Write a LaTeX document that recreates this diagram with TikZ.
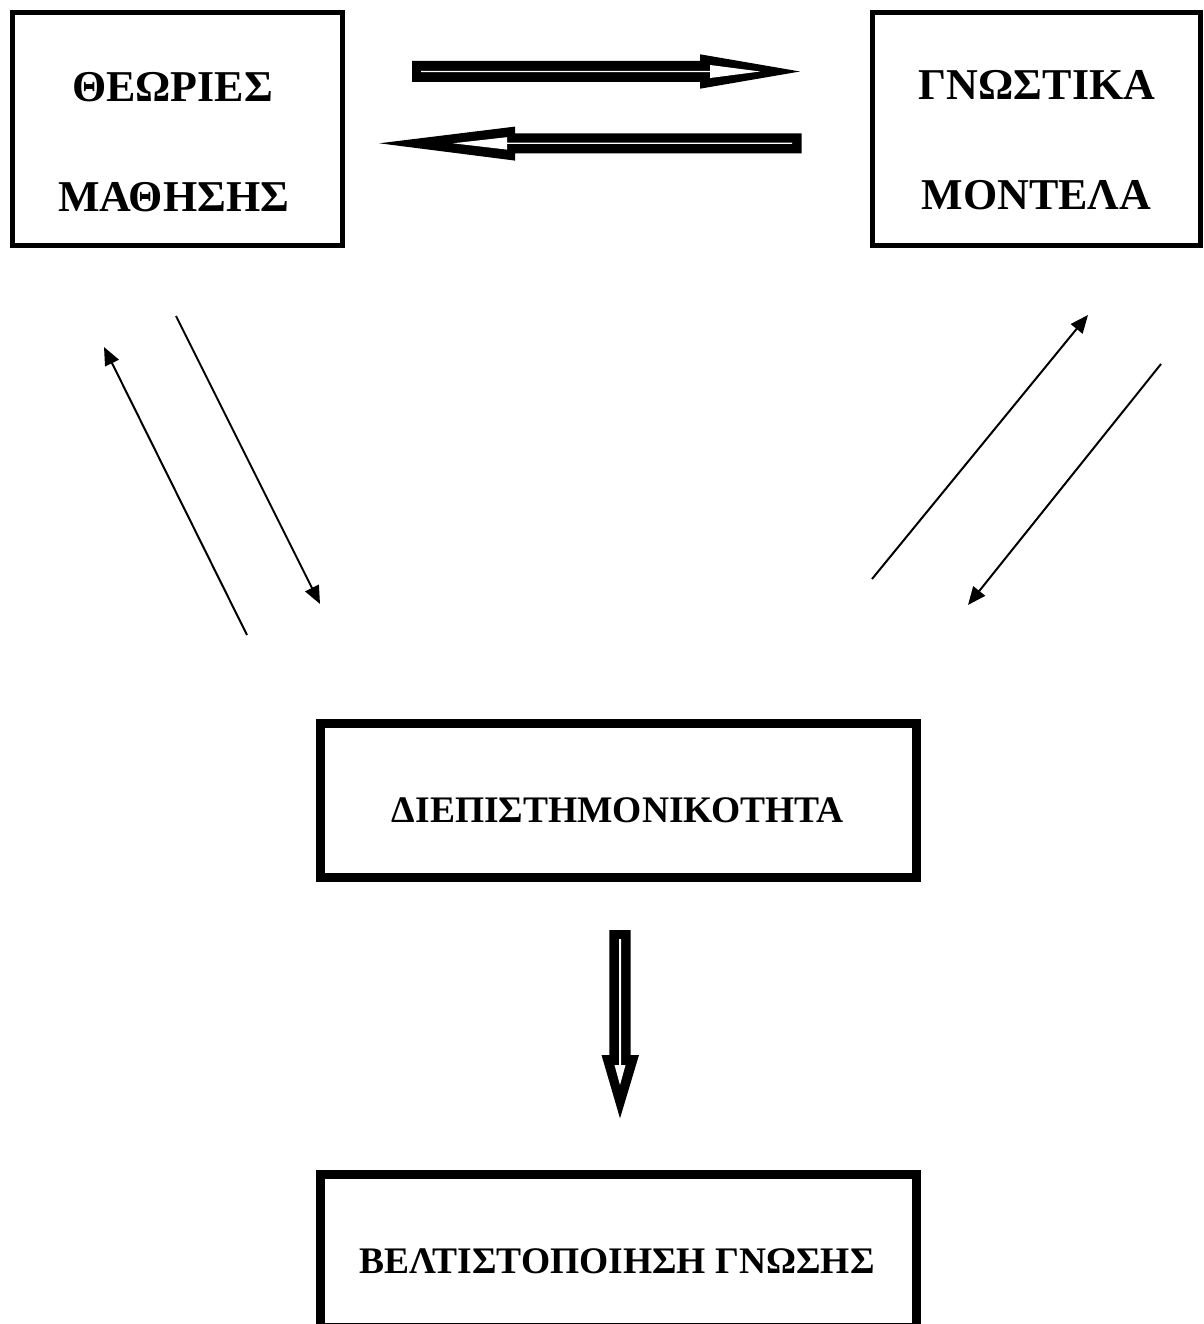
\documentclass[tikz,border=0pt]{standalone}
\usepackage{fontspec}
\setmainfont{Liberation Serif}
\usetikzlibrary{arrows.meta}
\begin{document}
\begin{tikzpicture}[x=1pt,y=-1pt,
  boxthin/.style={draw=black,line width=5pt,fill=white,inner sep=0pt},
  boxthick/.style={draw=black,line width=9pt,fill=white,inner sep=0pt},
  bigtxt/.style={anchor=base,inner sep=0pt,font=\fontsize{44}{50}\selectfont\bfseries},
  midtxt/.style={anchor=base,inner sep=0pt,font=\fontsize{37.5}{42}\selectfont\bfseries},
  thinarrow/.style={line width=2pt,-{Triangle[length=18pt,width=15pt]}},
  blockouter/.style={fill=black},
  blockinner/.style={fill=white}]
\useasboundingbox (0,0) rectangle (1203,1324);
\fill[white] (0,0) rectangle (1203,1324);

% frames
\node[boxthin,minimum width=330pt,minimum height=233pt] (theories) at (177.5,129) {};
\node[boxthin,minimum width=328pt,minimum height=233pt] (models) at (1036.5,129) {};
\node[boxthick,minimum width=596pt,minimum height=154pt] (interdisc) at (618,800) {};
\node[boxthick,minimum width=596pt,minimum height=153pt] (optim) at (618,1251) {};

% captions
\node[bigtxt] (theoriesA) at (172.5,102) {ΘΕΩΡΙΕΣ};
\node[bigtxt] (theoriesB) at (173.5,212) {ΜΑΘΗΣΗΣ};
\node[bigtxt] (modelsA) at (1037,100) {ΓΝΩΣΤΙΚΑ};
\node[bigtxt] (modelsB) at (1036.5,210) {ΜΟΝΤΕΛΑ};
\node[midtxt] (interdiscT) at (617.5,822) {ΔΙΕΠΙΣΤΗΜΟΝΙΚΟΤΗΤΑ};
\node[midtxt] (optimT) at (617,1273) {ΒΕΛΤΙΣΤΟΠΟΙΗΣΗ ΓΝΩΣΗΣ};

% outlined block arrows between the upper frames
\fill[blockouter] (412,61) -- (700,61) -- (700,54.3) -- (800,71.5) -- (700,88.7) -- (700,82) -- (412,82) -- cycle;
\fill[blockinner] (421,70.8) -- (710,70.8) -- (710,65) -- (760,71.5) -- (710,78) -- (710,72.2) -- (421,72.2) -- cycle;

\fill[blockouter] (801.7,133.3) -- (515,133.3) -- (515,126.6) -- (379.3,143.3) -- (515,160.6) -- (515,153.3) -- (801.7,153.3) -- cycle;
\fill[blockinner] (792,142.6) -- (507,142.6) -- (507,137.2) -- (453,143.3) -- (507,149.6) -- (507,144) -- (792,144) -- cycle;

% outlined block arrow down to the last frame
\fill[blockouter] (609.3,930) -- (630.7,930) -- (630.7,1055) -- (639,1055) -- (620,1118.3) -- (601.5,1055) -- (609.3,1055) -- cycle;
\fill[blockinner] (619,939) -- (621,939) -- (621,1065) -- (625.5,1065) -- (620,1085) -- (614.5,1065) -- (619,1065) -- cycle;

% thin diagonal arrows
\coordinate (upLs) at (247,635);
\coordinate (upLe) at (104,347);
\coordinate (dnLs) at (176,316);
\coordinate (dnLe) at (320,604);
\coordinate (upRs) at (872,579);
\coordinate (upRe) at (1088,315);
\coordinate (dnRs) at (1161,364);
\coordinate (dnRe) at (968,605);
\draw[thinarrow] (upLs) -- (upLe);
\draw[thinarrow] (dnLs) -- (dnLe);
\draw[thinarrow] (upRs) -- (upRe);
\draw[thinarrow] (dnRs) -- (dnRe);
\end{tikzpicture}
\end{document}
